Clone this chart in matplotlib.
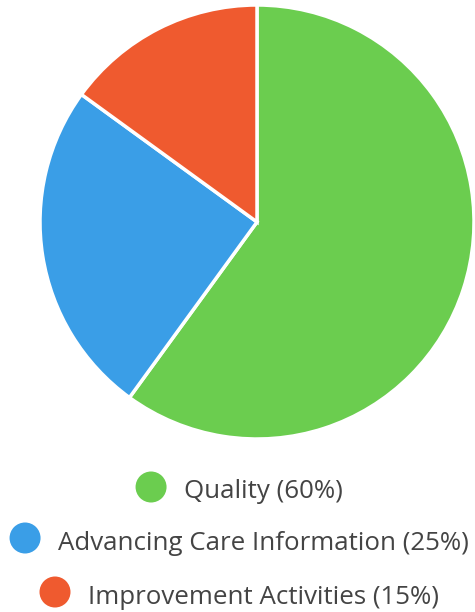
import matplotlib
matplotlib.use("Agg")
import matplotlib.pyplot as plt

categories = ["Quality", "Advancing Care Information", "Improvement Activities"]
values = [60, 25, 15]
colors = ["#6BCD4F", "#3A9EE7", "#EF5A2F"]

W, H = 475, 612
fig = plt.figure(figsize=(W / 100, H / 100), dpi=100)
fig.patch.set_facecolor("white")

cx, cy, r = 257, 222, 217
ax = fig.add_axes([(cx - r) / W, (H - cy - r) / H, 2 * r / W, 2 * r / H])
ax.pie(values, colors=colors, startangle=90, counterclock=False,
       wedgeprops=dict(edgecolor="white", linewidth=2.5))
ax.set_xlim(-1, 1)
ax.set_ylim(-1, 1)
ax.set_aspect("equal")
ax.axis("off")

# legend, each row centered
lax = fig.add_axes([0, 0, 1, 1])
lax.set_xlim(0, W)
lax.set_ylim(H, 0)
lax.axis("off")
renderer = fig.canvas.get_renderer()
baselines = [498, 550, 604]
marker_y = [487, 538, 592]
for cat, val, col, yb, ym in zip(categories, values, colors, baselines, marker_y):
    label = f"{cat} ({val}%)"
    t = lax.text(0, yb, label, fontsize=18.6, family="Open Sans", color="#444444",
                 va="baseline", ha="left")
    bb = t.get_window_extent(renderer=renderer)
    tw = bb.width
    total = 31 + 17 + tw
    x0 = (W - total) / 2 + 1.5
    t.set_x(x0 + 31 + 17)
    lax.scatter([x0 + 15.5], [ym], s=(31 * 0.72) ** 2, color=col, edgecolors="none")

fig.savefig("out.png", dpi=100, facecolor="white")
